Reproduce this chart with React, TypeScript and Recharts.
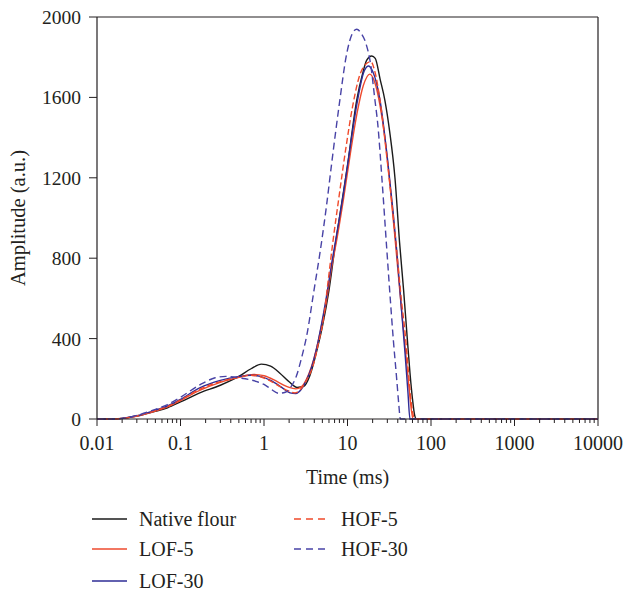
import React from "react";
import { LineChart, Line, XAxis, YAxis, ReferenceLine, Legend, Label } from "recharts";

const FONT = '"Liberation Serif", "Times New Roman", serif';
const INK = "#231f20";

// [time (ms), amplitude (a.u.)]
const nativeFlour = [
  [0.01, 0], [0.015, 0], [0.02, 3], [0.03, 14], [0.05, 38], [0.07, 56], [0.1, 85],
  [0.17, 130], [0.3, 168], [0.5, 212], [0.7, 250], [0.93, 273], [1.2, 263], [1.55, 228],
  [2.0, 185], [2.5, 157], [3.0, 163], [3.5, 210], [4.0, 290], [4.5, 375], [5.0, 460],
  [6.0, 640], [7.1, 860], [8.5, 1070], [10, 1260], [12.9, 1587], [15, 1710], [17, 1785],
  [19.5, 1806], [21.5, 1794], [24.6, 1690], [28, 1587], [32, 1430], [37, 1200], [42, 880],
  [47, 640], [52, 400], [56, 230], [60, 100], [64, 15], [67, 0], [10000, 0],
];

const lof5 = [
  [0.01, 0], [0.015, 0], [0.02, 3], [0.03, 15], [0.05, 40], [0.07, 60], [0.1, 92],
  [0.17, 142], [0.3, 182], [0.5, 207], [0.75, 222], [1.0, 215], [1.3, 196], [1.7, 170],
  [2.0, 157], [2.4, 150], [2.8, 160], [3.2, 195], [3.7, 260], [4.2, 340], [4.8, 450],
  [5.5, 570], [6.5, 760], [7.5, 900], [9, 1100], [11, 1340], [13, 1520], [15.5, 1660],
  [18.5, 1716], [21, 1680], [24.5, 1560], [28, 1400], [32, 1180], [38, 850], [44, 560],
  [50, 320], [55, 140], [58, 50], [61, 0], [10000, 0],
];

const lof30 = [
  [0.01, 0], [0.015, 0], [0.02, 3], [0.03, 16], [0.05, 44], [0.07, 65], [0.1, 98],
  [0.17, 155], [0.3, 192], [0.5, 212], [0.7, 218], [0.9, 212], [1.2, 192], [1.6, 160],
  [2.05, 130], [2.4, 127], [2.8, 148], [3.2, 190], [3.7, 255], [4.2, 340], [4.8, 455],
  [5.5, 590], [6.5, 780], [7.5, 930], [9, 1130], [11, 1380], [13, 1570], [15.5, 1720],
  [17.8, 1756], [20, 1730], [24.5, 1587], [30, 1300], [35, 1040], [38.8, 841], [44, 560],
  [49, 320], [53, 130], [56, 0], [10000, 0],
];

const hof5 = [
  [0.01, 0], [0.015, 0], [0.02, 3], [0.03, 15], [0.05, 42], [0.07, 62], [0.1, 95],
  [0.17, 148], [0.3, 186], [0.5, 208], [0.7, 218], [0.9, 210], [1.2, 188], [1.6, 158],
  [2.0, 138], [2.35, 130], [2.7, 145], [3.2, 190], [3.9, 270], [4.5, 380], [5.14, 493],
  [5.8, 670], [6.65, 874], [8, 1120], [9.5, 1340], [11.5, 1554], [14, 1710], [16.5, 1765],
  [19, 1778], [21.5, 1720], [24.5, 1587], [30, 1280], [38.8, 841], [44, 600], [49, 427],
  [54, 220], [58, 80], [62, 10], [64, 0], [10000, 0],
];

const hof30 = [
  [0.01, 0], [0.015, 0], [0.02, 3], [0.03, 18], [0.05, 48], [0.07, 72], [0.1, 108],
  [0.17, 170], [0.26, 205], [0.35, 212], [0.5, 205], [0.82, 186], [1.0, 172], [1.2, 150],
  [1.5, 128], [1.8, 133], [2.1, 160], [2.45, 215], [2.8, 300], [3.3, 430], [3.9, 620],
  [4.85, 870], [5.6, 1060], [6.5, 1280], [8, 1570], [9.8, 1819], [11.5, 1920], [12.9, 1939],
  [14.5, 1920], [16.6, 1869], [19, 1760], [21.3, 1587], [23, 1470], [26, 1180], [29.4, 857],
  [32.6, 592], [35.4, 393], [39, 190], [41, 80], [43, 0], [10000, 0],
];

const xMajor = [0.01, 0.1, 1, 10, 100, 1000, 10000];
const xTicks: number[] = [];
for (let d = -2; d <= 3; d++) {
  for (let m = 1; m <= 9; m++) xTicks.push(Number((m * Math.pow(10, d)).toPrecision(2)));
}
xTicks.push(10000);
const yTicks = [0, 400, 800, 1200, 1600, 2000];

const series = [
  { name: "Native flour", points: nativeFlour, color: "#1b1b1b", dash: undefined, legendDash: undefined },
  { name: "LOF-5", points: lof5, color: "#ee4a2e", dash: undefined, legendDash: undefined },
  { name: "LOF-30", points: lof30, color: "#2e2c96", dash: undefined, legendDash: undefined },
  { name: "HOF-5", points: hof5, color: "#f0492a", dash: "6 3", legendDash: "7 5" },
  { name: "HOF-30", points: hof30, color: "#4843a6", dash: "7 4", legendDash: "7 5" },
];

const toRows = (pts: number[][]) => pts.map(([t, a]) => ({ t, a }));

function TimeTick({ x, y, payload }: any) {
  const major = xMajor.includes(payload.value);
  return (
    <g>
      <line x1={x} x2={x} y1={y} y2={y + (major ? 7 : 4)} stroke={INK} strokeWidth={1} />
      {major && (
        <text x={x} y={y + 24} dy="0.355em" textAnchor="middle" fontFamily={FONT} fontSize={20} fill={INK}>
          {String(payload.value)}
        </text>
      )}
    </g>
  );
}

function SampleLegend() {
  return (
    <div style={{ position: "relative", width: 627, height: 102, fontFamily: FONT, fontSize: 20, color: INK }}>
      {series.map((s, i) => {
        const col = i < 3 ? 0 : 1;
        const row = i < 3 ? i : i - 3;
        const left = col === 0 ? 92 : 294;
        const top = [30, 60, 92][row];
        return (
          <div
            key={s.name}
            style={{ position: "absolute", left, top: top - 12, height: 24, display: "flex", alignItems: "center", whiteSpace: "nowrap" }}
          >
            <svg width={35} height={4} style={{ display: "block" }}>
              <line x1={0} x2={35} y1={2} y2={2} stroke={s.color} strokeWidth={1.5} strokeDasharray={s.legendDash} />
            </svg>
            <span style={{ marginLeft: 12, lineHeight: "24px" }}>{s.name}</span>
          </div>
        );
      })}
    </div>
  );
}

export default function App() {
  return (
    <div style={{ position: "absolute", left: 0, top: 0, width: 627, height: 591, background: "#fff" }}>
      <LineChart width={627} height={591} margin={{ top: 17, right: 29, left: 0, bottom: 0 }}>
        <XAxis
          type="number"
          dataKey="t"
          scale="log"
          domain={[0.01, 10000]}
          allowDataOverflow
          ticks={xTicks}
          interval={0}
          tick={<TimeTick />}
          tickLine={false}
          tickSize={0}
          tickMargin={0}
          height={70}
          axisLine={{ stroke: INK, strokeWidth: 1.2 }}
        >
          <Label
            content={({ viewBox }: any) => {
              const cx = viewBox.x + viewBox.width / 2;
              const cy = viewBox.y + 58;
              return (
                <text x={cx} y={cy} dy="0.355em" textAnchor="middle" fontFamily={FONT} fontSize={20} fill={INK}>
                  Time (ms)
                </text>
              );
            }}
          />
        </XAxis>
        <YAxis
          type="number"
          domain={[0, 2000]}
          ticks={yTicks}
          interval={0}
          width={97}
          tickSize={8}
          tickMargin={8}
          tickLine={{ stroke: INK }}
          axisLine={{ stroke: INK, strokeWidth: 1.2 }}
          tick={{ fontFamily: FONT, fontSize: 19.5, fill: INK }}
        >
          <Label
            content={({ viewBox }: any) => {
              const cx = viewBox.x + 18;
              const cy = viewBox.y + viewBox.height / 2;
              return (
                <text
                  x={cx}
                  y={cy}
                  dy="0.355em"
                  textAnchor="middle"
                  transform={`rotate(-90 ${cx} ${cy})`}
                  fontFamily={FONT}
                  fontSize={20.5}
                  fill={INK}
                >
                  Amplitude (a.u.)
                </text>
              );
            }}
          />
        </YAxis>
        <ReferenceLine y={2000} stroke={INK} strokeWidth={1.2} />
        <ReferenceLine x={10000} stroke={INK} strokeWidth={1.2} />
        {series.map((s) => (
          <Line
            key={s.name}
            name={s.name}
            data={toRows(s.points)}
            dataKey="a"
            type="monotone"
            stroke={s.color}
            strokeWidth={1.4}
            strokeDasharray={s.dash}
            dot={false}
            activeDot={false}
            isAnimationActive={false}
          />
        ))}
        <Legend
          verticalAlign="bottom"
          height={102}
          content={() => <SampleLegend />}
          wrapperStyle={{ left: 0, bottom: 0, width: 627 }}
        />
      </LineChart>
    </div>
  );
}
